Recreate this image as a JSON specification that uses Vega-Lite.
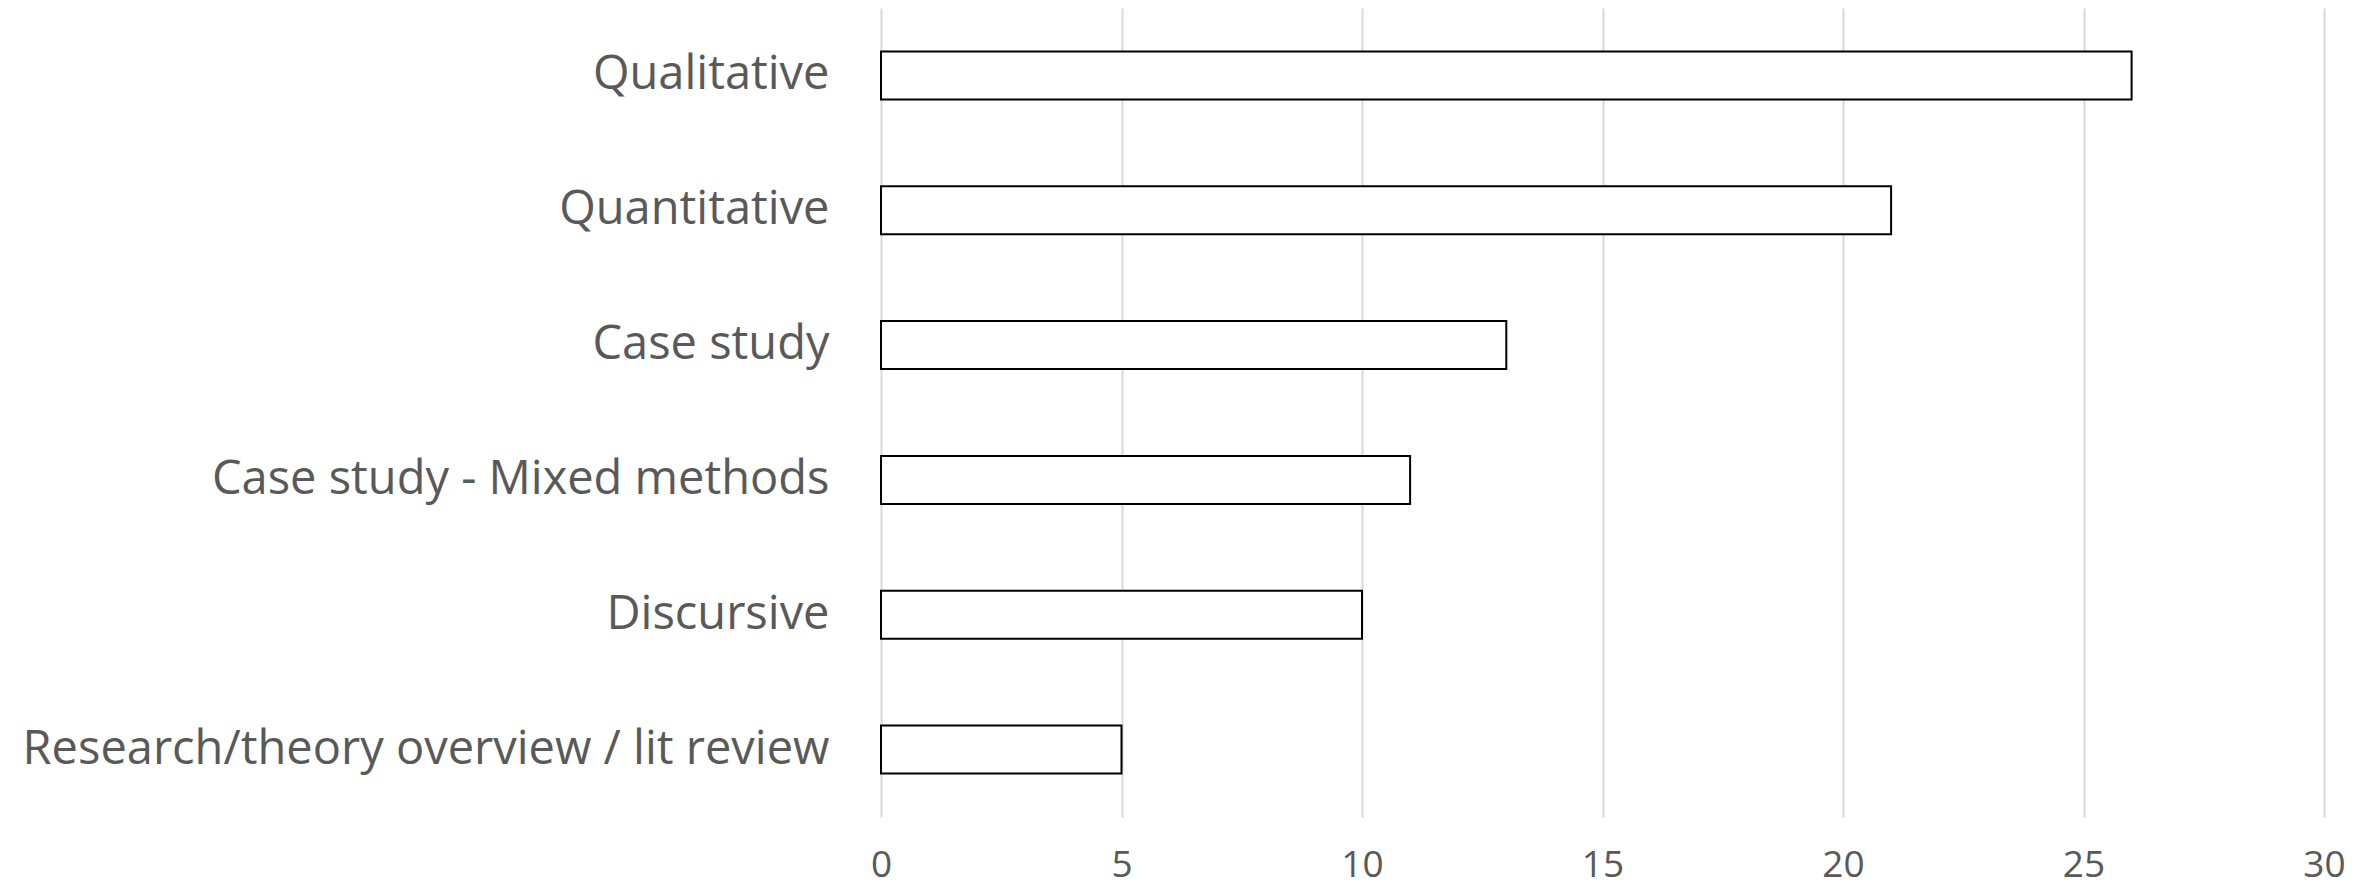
{
  "$schema": "https://vega.github.io/schema/vega-lite/v6.json",
  "width": 1443,
  "height": 809,
  "autosize": {"type": "none"},
  "padding": {"left": 881, "top": 8, "right": 55, "bottom": 74},
  "background": "white",
  "data": {
    "values": [
      {"method": "Qualitative", "count": 26},
      {"method": "Quantitative", "count": 21},
      {"method": "Case study", "count": 13},
      {"method": "Case study - Mixed methods", "count": 11},
      {"method": "Discursive", "count": 10},
      {"method": "Research/theory overview / lit review", "count": 5}
    ]
  },
  "mark": {"type": "bar", "fill": "white", "stroke": "black", "strokeWidth": 2},
  "encoding": {
    "y": {
      "field": "method",
      "type": "nominal",
      "sort": null,
      "scale": {"paddingInner": 0.644, "paddingOuter": 0.322},
      "axis": {
        "title": null,
        "domain": false,
        "ticks": false,
        "grid": false,
        "labelFont": "Open Sans",
        "labelFontSize": 47,
        "labelColor": "#595959",
        "labelPadding": 52,
        "labelLimit": 1000
      }
    },
    "x": {
      "field": "count",
      "type": "quantitative",
      "scale": {"domain": [0, 30], "nice": false},
      "axis": {
        "title": null,
        "values": [0, 5, 10, 15, 20, 25, 30],
        "domain": false,
        "ticks": false,
        "grid": true,
        "gridColor": "#d9d9d9",
        "gridWidth": 2,
        "labelFlush": false,
        "labelFont": "Open Sans",
        "labelFontSize": 37,
        "labelColor": "#595959",
        "labelPadding": 30
      }
    }
  },
  "config": {"view": {"stroke": null}}
}
